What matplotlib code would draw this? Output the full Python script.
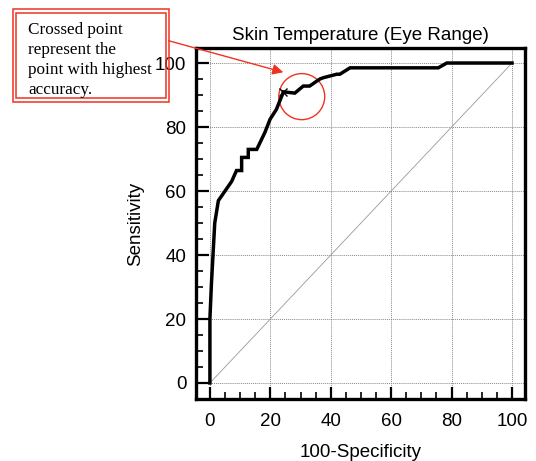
import matplotlib
matplotlib.use('Agg')
import matplotlib.pyplot as plt
from matplotlib.patches import Ellipse, Rectangle, FancyArrowPatch
from matplotlib.ticker import MultipleLocator

# ROC curve (100-Specificity, Sensitivity)
fpr = [0, 0, 0.5, 1.6, 2.8, 5.0, 7.2, 8.8, 10.5, 10.5, 12.7, 12.7, 15.5,
       18.2, 19.9, 22.0, 24.0, 24.3, 28.1, 30.9, 33.0, 36.4, 37.5, 42.0,
       43.0, 46.4, 75.6, 78.4, 100]
tpr = [0, 20, 31, 50, 57, 60, 63, 66.4, 66.4, 70.5, 70.5, 73, 73,
       78.3, 82.4, 85.5, 90.2, 91.0, 90.6, 92.8, 92.8, 95.0, 95.4, 96.5,
       96.5, 98.5, 98.5, 100, 100]
best_x, best_y = 24.3, 91.0

ticks = [0, 20, 40, 60, 80, 100]
title = 'Skin Temperature (Eye Range)'
note = 'Crossed point\nrepresent the\npoint with highest\naccuracy.'
red = '#ee3322'

fig = plt.figure(figsize=(5.36, 4.61), dpi=100)
ax = fig.add_axes([0.3657, 0.1345, 0.6138, 0.7614])
sans = 'Liberation Sans'
fs = 13.5

# grid + chance line
ax.grid(True, which='major', color='#888888', linestyle=(0, (1, 1)), linewidth=0.7)
ax.plot([0, 100], [0, 100], color='#999999', linewidth=0.6)
ax.plot(fpr, tpr, color='black', linewidth=2.5, solid_joinstyle='miter')
ax.plot([best_x], [best_y], marker='x', color='black', markersize=6, mew=1.0)

ax.set_xlim(-4.6, 104.3)
ax.set_ylim(-5.0, 104.7)
ax.set_xticks(ticks)
ax.set_yticks(ticks)
ax.xaxis.set_minor_locator(MultipleLocator(5))
ax.yaxis.set_minor_locator(MultipleLocator(5))
ax.tick_params(which='major', direction='in', length=9, width=1.6,
               top=False, right=False, labelsize=fs)
ax.tick_params(which='minor', direction='in', length=5, width=1.2,
               top=False, right=False)
ax.tick_params(axis='y', pad=7)
ax.tick_params(axis='x', pad=10)
for lab in ax.get_xticklabels() + ax.get_yticklabels():
    lab.set_family(sans)
for s in ax.spines.values():
    s.set_linewidth(2.4)

ax.set_title(title, family=sans, fontsize=fs, pad=6)
ax.set_xlabel('100-Specificity', family=sans, fontsize=fs, labelpad=10)
ax.set_ylabel('Sensitivity', family=sans, fontsize=fs, labelpad=8)

# red circle round the best point
ax.add_patch(Ellipse((30.4, 89.5), 15.2, 14.4, fill=False, edgecolor=red,
                     linewidth=1.0, clip_on=False))

# double-bordered note box (figure pixels)
W, H = 536, 461
def fr(x0, y0, x1, y1):
    return Rectangle((x0 / W, 1 - y1 / H), (x1 - x0) / W, (y1 - y0) / H,
                     transform=fig.transFigure, fill=False, edgecolor=red,
                     linewidth=1.1)
fig.patches.append(fr(12.7, 9.3, 169, 101.7))
fig.patches.append(fr(16, 13.3, 165.7, 98.3))
fig.text(28 / W, 1 - 22 / H, note, family='Liberation Serif', fontsize=12.3,
         va='top', ha='left', linespacing=1.32)

arrow = FancyArrowPatch((166 / W, 1 - 40 / H), (286 / W, 1 - 73 / H),
                        transform=fig.transFigure, arrowstyle='-|>',
                        mutation_scale=16, color=red, linewidth=1.0)
fig.patches.append(arrow)

fig.savefig('out.png', dpi=100)
